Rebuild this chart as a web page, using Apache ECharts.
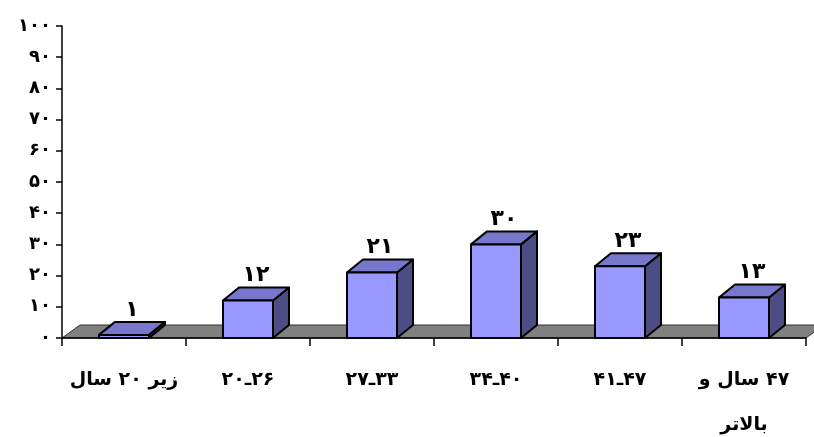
<!DOCTYPE html>
<html>
<head>
<meta charset="utf-8">
<script src="https://cdn.jsdelivr.net/npm/echarts@6/dist/echarts.min.js"></script>
<style>html,body{margin:0;padding:0;background:#fff;}#c{width:814px;height:437px;}</style>
</head>
<body>
<div id="c"></div>
<script>
const categories = ['زیر ۲۰ سال', '۲۰ـ۲۶', '۲۷ـ۳۳', '۳۴ـ۴۰', '۴۱ـ۴۷', '۴۷ سال و\nبالاتر'];
const values = [1, 12, 21, 30, 23, 13];
const yTicks = [0, 10, 20, 30, 40, 50, 60, 70, 80, 90, 100];

const FONT = 'DejaVu Sans';
const DX = 16, DY = 13, BAR_W = 50;

function fa(n) {
  return String(n).replace(/[0-9]/g, d => '۰۱۲۳۴۵۶۷۸۹'[+d]);
}
// word labels: right-to-left line; ranges: low → high drawn left to right
function visual(s) {
  return s.split('\n').map(line => {
    if (/[\u0621-\u063A\u0641-\u064A\u06CC\u06A9]/.test(line)) return '{w|\u200F' + line + '}';
    return line.split(/(ـ)/).filter(p => p.length).map(p => '{w|' + p + '}').join('');
  }).join('\n');
}

const chart = echarts.init(document.getElementById('c'));
chart.setOption({
  animation: false,
  grid: { left: 62, right: 8, top: 26, bottom: 99, containLabel: false, outerBoundsMode: 'none' },
  xAxis: {
    type: 'category',
    data: categories,
    z: 5,
    axisLine: { lineStyle: { color: '#000', width: 1.5 } },
    axisTick: { show: true, length: 8, inside: false, lineStyle: { color: '#000', width: 1.5 } },
    axisLabel: {
      formatter: v => visual(v),
      fontFamily: FONT, fontWeight: 'bold', fontSize: 19, color: '#000',
      margin: 20, lineHeight: 45, interval: 0,
      rich: { w: { fontFamily: FONT, fontWeight: 'bold', fontSize: 19, color: '#000', lineHeight: 45 } }
    }
  },
  yAxis: {
    type: 'value',
    min: yTicks[0], max: yTicks[yTicks.length - 1], interval: 10,
    z: 5,
    axisLine: { show: true, lineStyle: { color: '#000', width: 1.5 } },
    axisTick: { show: true, length: 6, lineStyle: { color: '#000', width: 1.5 } },
    splitLine: { show: false },
    axisLabel: {
      formatter: v => fa(v),
      fontFamily: FONT, fontWeight: 'bold', fontSize: 18, color: '#000', margin: 11
    }
  },
  series: [
    {
      type: 'custom',
      z: 1,
      data: [[0]],
      renderItem: function (params, api) {
        const cs = params.coordSys;
        const y0 = api.coord([0, 0])[1];
        const x0 = cs.x, x1 = cs.x + cs.width;
        return {
          type: 'polygon',
          shape: { points: [[x0, y0], [x1, y0], [x1 + DX + 2, y0 - DY], [x0 + DX + 2, y0 - DY]] },
          style: { fill: '#808080', stroke: '#333', lineWidth: 1 }
        };
      }
    },
    {
      type: 'custom',
      z: 3,
      data: values.map((v, i) => [i, v]),
      renderItem: function (params, api) {
        const i = api.value(0), v = api.value(1);
        const top = api.coord([i, v]);
        const bot = api.coord([i, 0]);
        const cx = top[0], yT = top[1], yB = bot[1];
        const l = cx - BAR_W / 2, r = cx + BAR_W / 2;
        const st = { stroke: '#000', lineWidth: 2, lineJoin: 'round' };
        return {
          type: 'group',
          children: [
            { type: 'polygon', shape: { points: [[r, yT], [r + DX, yT - DY], [r + DX, yB - DY], [r, yB]] },
              style: Object.assign({ fill: '#4D4D85' }, st) },
            { type: 'polygon', shape: { points: [[l, yT], [r, yT], [r + DX, yT - DY], [l + DX, yT - DY]] },
              style: Object.assign({ fill: '#7777CC' }, st) },
            { type: 'rect', shape: { x: l, y: yT, width: BAR_W, height: yB - yT },
              style: Object.assign({ fill: '#9999FF' }, st) },
            { type: 'text', style: { text: fa(v), x: cx + DX / 2, y: yT - DY - 1, align: 'center', verticalAlign: 'bottom',
              fontFamily: FONT, fontWeight: 'bold', fontSize: 22, fill: '#000' } }
          ]
        };
      }
    }
  ]
});
</script>
</body>
</html>
